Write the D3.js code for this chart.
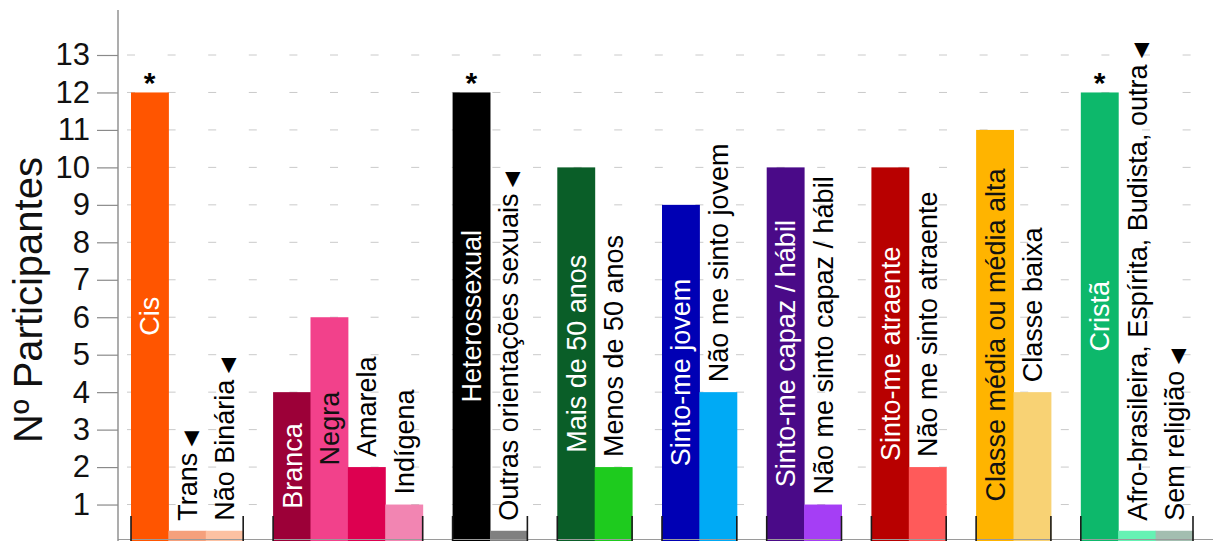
<!DOCTYPE html>
<html>
<head>
<meta charset="utf-8">
<script src="https://cdn.jsdelivr.net/npm/d3@7"></script>
<style>
body { margin: 0; background: #fff; }
svg { display: block; font-family: "Liberation Sans", Arial, Helvetica, sans-serif; }
</style>
</head>
<body>
<svg id="chart" width="1213" height="541"></svg>
<script>
// categories, in drawing order, and the group each belongs to
const categories = ["Cis", "Trans", "Não Binária",
  "Branca", "Negra", "Amarela", "Indígena",
  "Heterossexual", "Outras orientações sexuais",
  "Mais de 50 anos", "Menos de 50 anos",
  "Sinto-me jovem", "Não me sinto jovem",
  "Sinto-me capaz / hábil", "Não me sinto capaz / hábil",
  "Sinto-me atraente", "Não me sinto atraente",
  "Classe média ou média alta", "Classe baixa",
  "Cristã", "Afro-brasileira, Espírita, Budista, outra", "Sem religião"];
const groupOf = [0, 0, 0, 1, 1, 1, 1, 2, 2, 3, 3, 4, 4, 5, 5, 6, 6, 7, 7, 8, 8, 8];
const values = [12, 0.3, 0.3, 4, 6, 2, 1, 12, 0.3, 10, 2, 9, 4, 10, 1, 10, 2, 11, 4, 12, 0.3, 0.3];
// marked with * above the bar
const starred = ["Cis", "Heterossexual", "Cristã"];
// marked with a triangle after the label
const absent = ["Trans", "Não Binária", "Outras orientações sexuais",
  "Afro-brasileira, Espírita, Budista, outra", "Sem religião"];
const yTicks = [1, 2, 3, 4, 5, 6, 7, 8, 9, 10, 11, 12, 13];
const yTitle = "Nº Participantes";

const barColors = ["#ff5500", "#f5a07c", "#fdc1a2",
  "#9c0038", "#f2418b", "#dd0050", "#f285b2",
  "#000000", "#808080",
  "#0a5e28", "#1ecb1e",
  "#0000b4", "#00aaf5",
  "#4a0a88", "#a53ef5",
  "#b80000", "#ff5a5a",
  "#ffb400", "#f8d274",
  "#0db86b", "#66f2b4", "#a3beb0"];
const darkText = ["Negra", "Classe média ou média alta"];

const W = 1213, H = 541;
const axisX = 118;
const svg = d3.select("#chart");

const data = categories.map((c, i) => ({
  name: c, value: values[i], group: groupOf[i],
  pos: i + groupOf[i] * 0.8, color: barColors[i]
}));
const nGroups = d3.max(groupOf) + 1;

const x = d3.scaleLinear()
  .domain([0, categories.length + (nGroups - 1) * 0.8])
  .range([131, 1193]);
const bw = x(1) - x(0);
const y = d3.scaleLinear().domain([0, 13]).range([542, 55]);

// dashed grid
svg.append("g")
  .selectAll("line")
  .data(yTicks)
  .join("line")
  .attr("x1", axisX + 9).attr("x2", W)
  .attr("y1", d => y(d)).attr("y2", d => y(d))
  .attr("stroke", "#cacaca")
  .attr("stroke-width", 1)
  .attr("stroke-dasharray", "8,32.6");

// bars
svg.append("g")
  .selectAll("rect")
  .data(data)
  .join("rect")
  .attr("x", d => x(d.pos))
  .attr("y", d => y(d.value))
  .attr("width", bw + 0.5)
  .attr("height", d => y(0) - y(d.value))
  .attr("fill", d => d.color);

// baseline
svg.append("line")
  .attr("x1", axisX).attr("x2", W)
  .attr("y1", H - 1.5).attr("y2", H - 1.5)
  .attr("stroke", "#9a9a9a").attr("stroke-width", 1.2);

// group brackets
const groups = d3.range(nGroups).map(g => {
  const members = data.filter(d => d.group === g);
  return [x(members[0].pos), x(members[members.length - 1].pos + 1)];
});
svg.append("g")
  .selectAll("line")
  .data(groups.flat())
  .join("line")
  .attr("x1", d => d).attr("x2", d => d)
  .attr("y1", H - 25).attr("y2", H)
  .attr("stroke", "#1a1a1a").attr("stroke-width", 1.6);

// bar labels
const labels = svg.append("g")
  .selectAll("text")
  .data(data)
  .join("text")
  .attr("font-size", 27)
  .attr("dy", "0.36em")
  .text(d => d.name);

// triangle after the labels of absent categories (drawn sideways, reads as ▼)
labels.filter(d => absent.includes(d.name))
  .append("tspan")
  .attr("font-family", "'DejaVu Sans', sans-serif")
  .attr("font-size", 20)
  .text(" \u25C0");

labels.each(function (d) {
  const len = this.getComputedTextLength();
  const cx = x(d.pos) + bw / 2;
  const h = y(0) - y(d.value);
  const t = d3.select(this);
  if (h > len + 30) {
    t.attr("text-anchor", "middle")
      .attr("transform", `translate(${cx},${(y(d.value) + H - 1) / 2}) rotate(-90)`)
      .style("fill", darkText.includes(d.name) ? "#111111" : "#ffffff");
  } else {
    t.attr("text-anchor", "start")
      .attr("transform", `translate(${cx},${y(d.value) - 10}) rotate(-90)`)
      .style("fill", "#000000");
  }
});

// asterisks
svg.append("g")
  .selectAll("text")
  .data(data.filter(d => starred.includes(d.name)))
  .join("text")
  .attr("x", d => x(d.pos) + bw / 2)
  .attr("y", d => y(d.value) + 1)
  .attr("text-anchor", "middle")
  .attr("font-size", 30)
  .attr("font-weight", "bold")
  .attr("fill", "#000")
  .text("*");

// y axis
const yAxis = d3.axisLeft(y).tickValues(yTicks).tickSize(21).tickPadding(7);
const ga = svg.append("g")
  .attr("transform", `translate(${axisX},0)`)
  .call(yAxis);
ga.select(".domain").remove();
ga.selectAll(".tick line").attr("stroke", "#8a8a8a").attr("stroke-width", 1.2);
ga.selectAll(".tick text")
  .attr("font-size", 31)
  .attr("font-family", "'Liberation Sans', Arial, sans-serif")
  .attr("fill", "#111");

svg.append("line")
  .attr("x1", axisX).attr("x2", axisX)
  .attr("y1", 10).attr("y2", H)
  .attr("stroke", "#8a8a8a").attr("stroke-width", 1.4);

svg.append("text")
  .attr("transform", `translate(42,${300}) rotate(-90)`)
  .attr("text-anchor", "middle")
  .attr("font-size", 40)
  .attr("fill", "#111")
  .text(yTitle);
</script>
</body>
</html>
